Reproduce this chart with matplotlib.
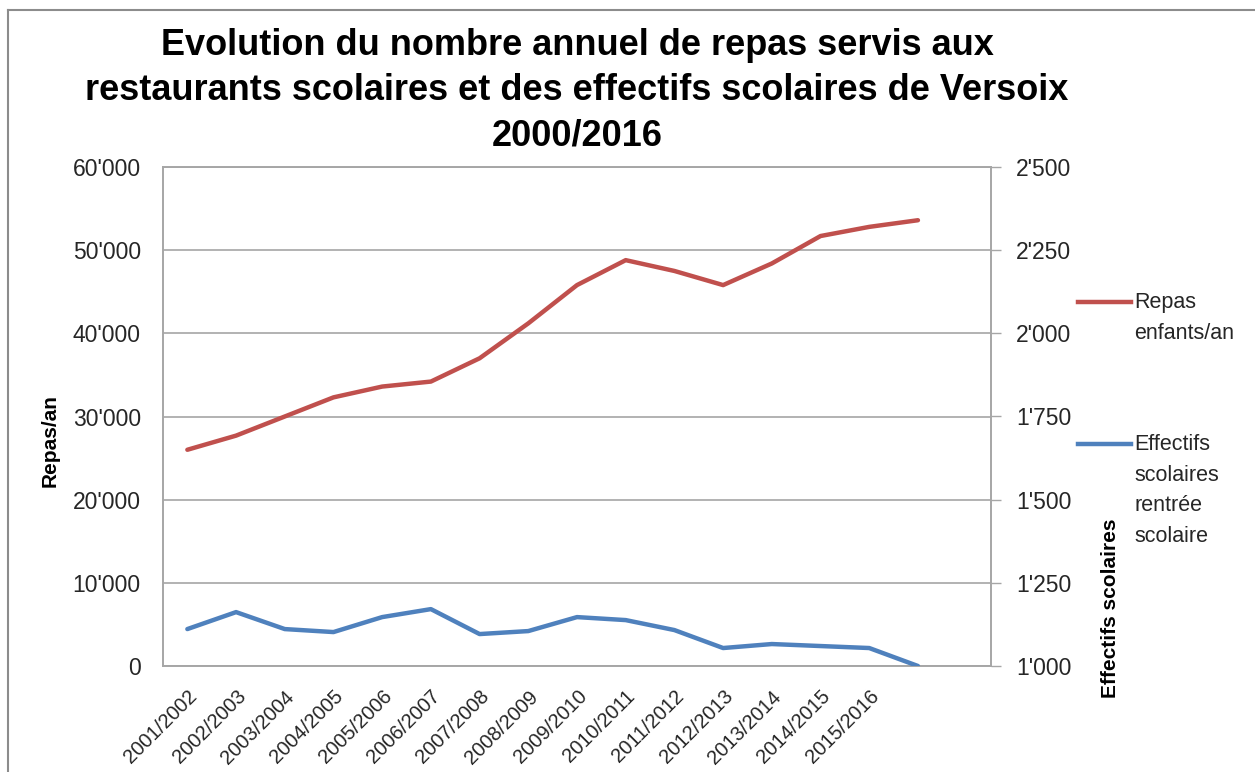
import matplotlib
matplotlib.use("Agg")
import matplotlib.pyplot as plt
from matplotlib import font_manager
from matplotlib.lines import Line2D
from matplotlib.ticker import FuncFormatter, MultipleLocator

# data
saisons = ["2001/2002", "2002/2003", "2003/2004", "2004/2005", "2005/2006",
           "2006/2007", "2007/2008", "2008/2009", "2009/2010", "2010/2011",
           "2011/2012", "2012/2013", "2013/2014", "2014/2015", "2015/2016"]
repas = [26000, 27700, 30000, 32300, 33600, 34200, 37000, 41200,
         45800, 48800, 47500, 45800, 48400, 51700, 52800, 53600]
effectifs = [1111, 1162, 1111, 1102, 1147, 1171, 1096, 1105,
             1147, 1138, 1108, 1054, 1066, 1060, 1054, 1000]
n_cat = 17  # the Excel axis keeps one empty category at the end

installed = {f.name for f in font_manager.fontManager.ttflist}
narrow = "Liberation Sans Narrow" if "Liberation Sans Narrow" in installed else "Liberation Sans"
plt.rcParams["font.family"] = ["Liberation Sans", "DejaVu Sans"]

red = "#C0504D"
blue = "#4F81BD"
grid_col = "#A6A6A6"

W, H = 1255, 772
fig = plt.figure(figsize=(W / 100, H / 100), dpi=100)
ax = fig.add_axes([163 / W, 1 - 666 / H, (991 - 163) / W, (666 - 167) / H])
ax2 = ax.twinx()

x = list(range(len(repas)))
ax.plot(x, repas, color=red, lw=3.2, solid_capstyle="round", zorder=3)
ax2.plot(x, effectifs, color=blue, lw=3.2, solid_capstyle="round", zorder=3)

ax.set_xlim(-0.5, n_cat - 0.5)
ax.set_ylim(0, 60000)
ax2.set_ylim(1000, 2500)
ax.yaxis.set_major_locator(MultipleLocator(10000))
ax2.yaxis.set_major_locator(MultipleLocator(250))
fmt = FuncFormatter(lambda v, p: f"{v:,.0f}".replace(",", "'"))
ax.yaxis.set_major_formatter(fmt)
ax2.yaxis.set_major_formatter(fmt)

ax.set_xticks(range(n_cat))
ax.set_xticklabels(saisons + [""] * (n_cat - len(saisons)), rotation=45,
                   ha="right", rotation_mode="anchor", fontsize=14.5, color="#262626")
ax.tick_params(axis="x", length=0, pad=15)
ax.tick_params(axis="y", length=0, pad=16, labelsize=16.5, labelcolor="#262626")
ax2.tick_params(axis="y", length=7, width=1, color=grid_col, pad=11,
                labelsize=16.5, labelcolor="#262626")

ax.grid(axis="y", color=grid_col, lw=1.2)
ax.set_axisbelow(True)
for a in (ax, ax2):
    for s in a.spines.values():
        s.set_color(grid_col)
        s.set_linewidth(1.2)

# axis titles placed like in the Excel export
fig.text(50 / W, 1 - 441 / H, "Repas/an", rotation=90, ha="center", va="center",
         fontsize=15, fontweight="bold", family=narrow)
fig.text(1110 / W, 1 - 608 / H, "Effectifs scolaires", rotation=90, ha="center",
         va="center", fontsize=15, fontweight="bold", family=narrow)

fig.text(577 / W, 1 - 91 / H,
         "Evolution du nombre annuel de repas servis aux\n"
         "restaurants scolaires et des effectifs scolaires de Versoix\n2000/2016",
         ha="center", va="center", fontsize=26, fontweight="bold",
         family=narrow, linespacing=1.38)

# legend on the right
fig.add_artist(Line2D([1078 / W, 1131 / W], [1 - 302 / H] * 2, color=red, lw=3.2,
                      transform=fig.transFigure))
fig.add_artist(Line2D([1078 / W, 1131 / W], [1 - 444 / H] * 2, color=blue, lw=3.2,
                      transform=fig.transFigure))
fig.text(1134 / W, 1 - 292 / H, "Repas\nenfants/an", ha="left", va="top",
         fontsize=15.5, linespacing=1.6, color="#262626")
fig.text(1134 / W, 1 - 434 / H, "Effectifs\nscolaires\nrentrée\nscolaire", ha="left",
         va="top", fontsize=15.5, linespacing=1.6, color="#262626")

# chart frame (left and top edges visible)
fig.add_artist(Line2D([8 / W, 8 / W], [0, 1 - 10 / H], color="#8C8C8C", lw=1.5,
                      transform=fig.transFigure))
fig.add_artist(Line2D([8 / W, 1], [1 - 10 / H] * 2, color="#8C8C8C", lw=1.5,
                      transform=fig.transFigure))

fig.savefig("out.png", dpi=100)
